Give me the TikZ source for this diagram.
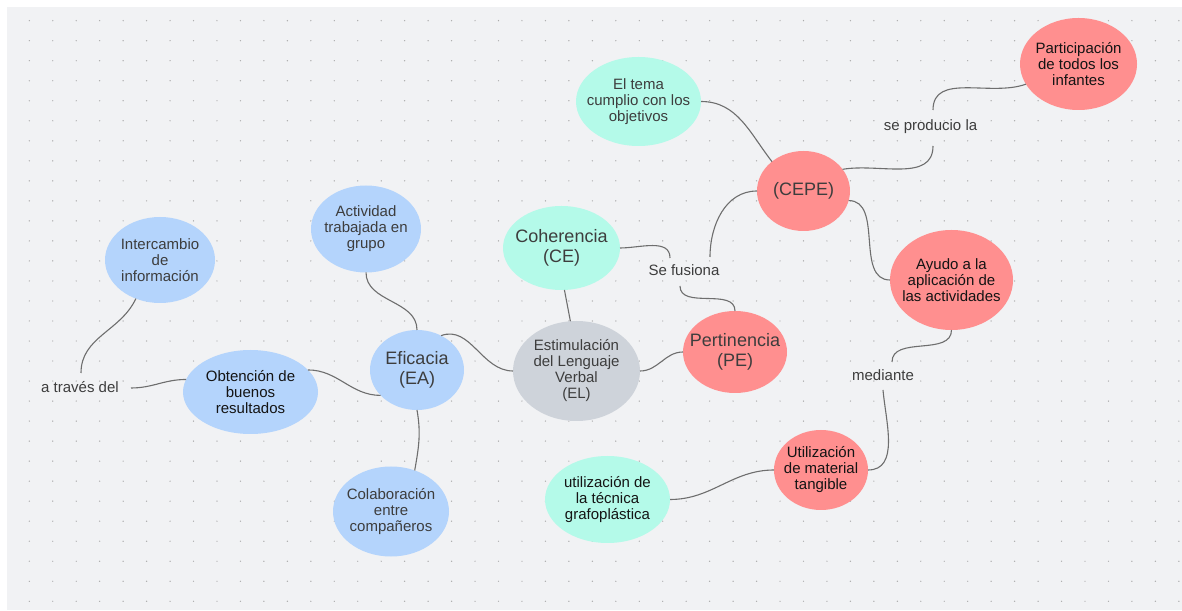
\documentclass[tikz,border=0pt]{standalone}
\usepackage{fontspec}
\setmainfont{Liberation Sans}
\usetikzlibrary{shapes.geometric}
\definecolor{canvas}{HTML}{F1F2F4}
\definecolor{dotgrey}{HTML}{ABABAB}
\definecolor{bubblue}{HTML}{B4D4FC}
\definecolor{bubmint}{HTML}{B4FAE9}
\definecolor{bubred}{HTML}{FF8F8F}
\definecolor{bubgrey}{HTML}{CED3DA}
\definecolor{txtgray}{HTML}{3D3D3D}
\definecolor{txtdark}{HTML}{141414}
\definecolor{linkgrey}{HTML}{6E6E6E}
\begin{document}
\begin{tikzpicture}[x=1pt,y=1pt,
    bub/.style={ellipse,inner sep=-30pt,outer sep=0pt,align=center,text=txtgray,font=\fontsize{15}{16}\selectfont},
    bluebub/.style={bub,fill=bubblue},
    mintbub/.style={bub,fill=bubmint},
    redbub/.style={bub,fill=bubred},
    greybub/.style={bub,fill=bubgrey},
    big/.style={font=\fontsize{18}{20}\selectfont},
    dark/.style={text=txtdark},
    lbl/.style={inner sep=0pt,text=txtgray,font=\fontsize{15}{16}\selectfont},
    link/.style={draw=linkgrey,line width=1.1pt}]
    \useasboundingbox (0,0) rectangle (1182,610);
    \fill[white] (0,0) rectangle (1182,610);
    \fill[canvas] (7,0) rectangle (1182,603);
    \foreach \i in {0,...,49}
        \foreach \j in {0,...,29}
            \fill[dotgrey] (29.3+23.46*\i,589.3-20.02*\j) circle (0.7pt);

    % bubbles
    \node[bluebub,minimum width=110pt,minimum height=86pt] (info) at (160,350) {Intercambio\\de\\información};
    \node[bluebub,minimum width=110pt,minimum height=87pt] (act) at (366,381) {Actividad\\trabajada en\\grupo};
    \node[bluebub,dark,minimum width=135pt,minimum height=84pt] (obt) at (250.5,218) {Obtención de\\buenos\\resultados};
    \node[bluebub,big,minimum width=94pt,minimum height=80pt] (efi) at (417,240) {Eficacia\\(EA)};
    \node[bluebub,minimum width=116pt,minimum height=90pt] (col) at (391,98.5) {Colaboración\\entre\\compañeros};
    \node[greybub,minimum width=127pt,minimum height=100pt] (est) at (576.5,239) {Estimulación\\del Lenguaje\\Verbal\\(EL)};
    \node[mintbub,big,minimum width=117pt,minimum height=84pt] (coh) at (561.5,362) {Coherencia\\(CE)};
    \node[mintbub,minimum width=125pt,minimum height=89pt] (tema) at (638.5,508.5) {El tema\\cumplio con los\\objetivos};
    \node[mintbub,dark,minimum width=125pt,minimum height=87pt] (tec) at (607.5,110.5) {utilización de\\la técnica\\grafoplástica};
    \node[redbub,big,minimum width=104pt,minimum height=82pt] (pert) at (735,258) {Pertinencia\\(PE)};
    \node[redbub,big,minimum width=93pt,minimum height=80pt] (cepe) at (803.5,419) {(CEPE)};
    \node[redbub,dark,minimum width=117pt,minimum height=92pt] (part) at (1078.5,546) {Participación\\de todos los\\infantes};
    \node[redbub,dark,minimum width=123pt,minimum height=100pt] (ayu) at (951.5,330) {Ayudo a la\\aplicación de\\las actividades};
    \node[redbub,dark,minimum width=94pt,minimum height=80pt] (util) at (821,140) {Utilización\\de material\\tangible};

    % link words
    \node[lbl] (trav) at (80,223) {a través del};
    \node[lbl] (fus) at (684,340) {Se fusiona};
    \node[lbl] (prod) at (930.5,483) {se producio la};
    \node[lbl] (med) at (883,235) {mediante};

    % connectors
    \draw[link] (info.238) to[out=245,in=90] ([shift={(1,14)}]trav.center);
    \draw[link] ([shift={(51,-1)}]trav.center) to[out=0,in=180] (obt.169);
    \draw[link] (obt.21) to[out=0,in=180] (efi.215);
    \draw[link] (act.south) to[out=-90,in=90] (efi.north);
    \draw[link] (efi.south) to[out=-80,in=80] (col.60);
    \draw[link] (efi.55) to[out=20,in=180] (est.west);
    \draw[link] (coh.-86) -- (est.97);
    \draw[link] (coh.east) to[out=0,in=90] ([shift={(-14,12)}]fus.center);
    \draw[link] ([shift={(-4,-16)}]fus.center) to[out=-90,in=90] (pert.north);
    \draw[link] ([shift={(26,13)}]fus.center) to[out=90,in=180] (cepe.west);
    \draw[link] (est.east) to[out=0,in=180] (pert.west);
    \draw[link] (tema.east) to[out=0,in=128] (cepe.137);
    \draw[link] (cepe.29) to[out=10,in=-90] ([shift={(2.5,-19)}]prod.center);
    \draw[link] ([shift={(2.5,17)}]prod.center) to[out=90,in=200] (part.201);
    \draw[link] (cepe.-12) to[out=0,in=180] (ayu.west);
    \draw[link] (ayu.south) to[out=-90,in=90] ([shift={(9,13)}]med.center);
    \draw[link] ([shift={(0,-15)}]med.center) to[out=-85,in=0] (util.east);
    \draw[link] (util.west) to[out=180,in=0] (tec.east);
\end{tikzpicture}
\end{document}
